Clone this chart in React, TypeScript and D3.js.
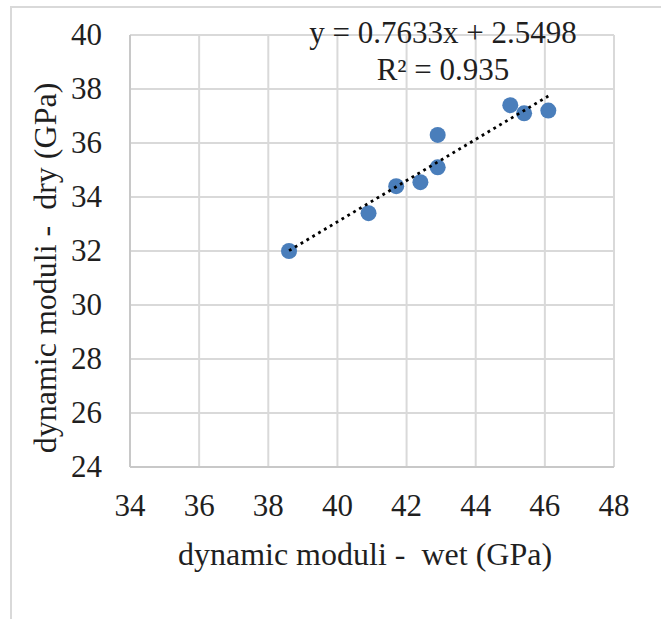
import React from "react";
import * as d3 from "d3";

const wetValues = [38.6, 40.9, 41.7, 42.4, 42.9, 42.9, 45.0, 45.4, 46.1];
const dryValues = [32.0, 33.4, 34.4, 34.55, 35.1, 36.3, 37.4, 37.1, 37.2];
const xTicks = [34, 36, 38, 40, 42, 44, 46, 48];
const yTicks = [24, 26, 28, 30, 32, 34, 36, 38, 40];
const trendSlope = 0.7633;
const trendIntercept = 2.5498;
const equationText = "y = 0.7633x + 2.5498";
const r2Text = "R² = 0.935";
const xLabel = "dynamic moduli -  wet (GPa)";
const yLabel = "dynamic moduli -  dry (GPa)";

const W = 661;
const H = 619;
const left = 130;
const right = 614;
const top = 35;
const bottom = 467;
const font = "Times New Roman, Liberation Serif, serif";
const grid = "#d9d9d9";
const textColor = "#1f1f1f";

const textStyle: React.CSSProperties = {
  fontFamily: "'Times New Roman', 'Liberation Serif', serif",
  whiteSpace: "pre",
};

export default function App() {
  const x = d3.scaleLinear().domain([34, 48]).range([left, right]);
  const y = d3.scaleLinear().domain([24, 40]).range([bottom, top]);
  const xMin = d3.min(wetValues) as number;
  const xMax = d3.max(wetValues) as number;
  const trend = d3
    .line<number>()
    .x((v) => x(v))
    .y((v) => y(trendSlope * v + trendIntercept));
  const pts = wetValues.map((w, i) => ({ w, d: dryValues[i] }));

  return (
    <svg
      width={W}
      height={H}
      fontFamily={font}
      style={{ position: "absolute", left: 0, top: 0, background: "#fff" }}
    >
      <rect x={0} y={0} width={W} height={H} fill="#fff" />
      <rect x={11} y={7} width={W + 20} height={H + 20} fill="none" stroke={grid} strokeWidth={2} />
      {xTicks.map((t) => (
        <line key={"gx" + t} x1={x(t)} x2={x(t)} y1={top} y2={bottom} stroke={grid} strokeWidth={2} />
      ))}
      {yTicks.map((t) => (
        <line key={"gy" + t} x1={left} x2={right} y1={y(t)} y2={y(t)} stroke={grid} strokeWidth={2} />
      ))}
      <line x1={left} x2={right} y1={bottom} y2={bottom} stroke="#c8c8c8" strokeWidth={2} />
      <line x1={left} x2={left} y1={top} y2={bottom} stroke="#c8c8c8" strokeWidth={2} />
      {yTicks.map((t) => (
        <text
          key={"ty" + t}
          x={102}
          y={y(t) + 10}
          textAnchor="end"
          fontSize={31}
          fill={textColor}
          style={textStyle}
        >
          {String(t)}
        </text>
      ))}
      {xTicks.map((t) => (
        <text
          key={"tx" + t}
          x={x(t)}
          y={516}
          textAnchor="middle"
          fontSize={31}
          fill={textColor}
          style={textStyle}
        >
          {String(t)}
        </text>
      ))}
      {pts.map((p, i) => (
        <circle key={"p" + i} cx={x(p.w)} cy={y(p.d)} r={8} fill="#4a7ebb" />
      ))}
      <path
        d={trend([xMin, xMax]) || ""}
        fill="none"
        stroke="#000"
        strokeWidth={2.8}
        strokeDasharray="2.8 4"
      />
      <text x={443} y={43} textAnchor="middle" fontSize={31} fill={textColor} style={textStyle}>
        {equationText}
      </text>
      <text x={443} y={80} textAnchor="middle" fontSize={31} fill={textColor} style={textStyle}>
        {r2Text}
      </text>
      <text x={365} y={565} textAnchor="middle" fontSize={32} fill={textColor} style={textStyle}>
        {xLabel}
      </text>
      <g transform="translate(56, 268)">
        <text
          transform="rotate(-90)"
          textAnchor="middle"
          fontSize={32}
          fill={textColor}
          style={textStyle}
        >
          {yLabel}
        </text>
      </g>
    </svg>
  );
}
